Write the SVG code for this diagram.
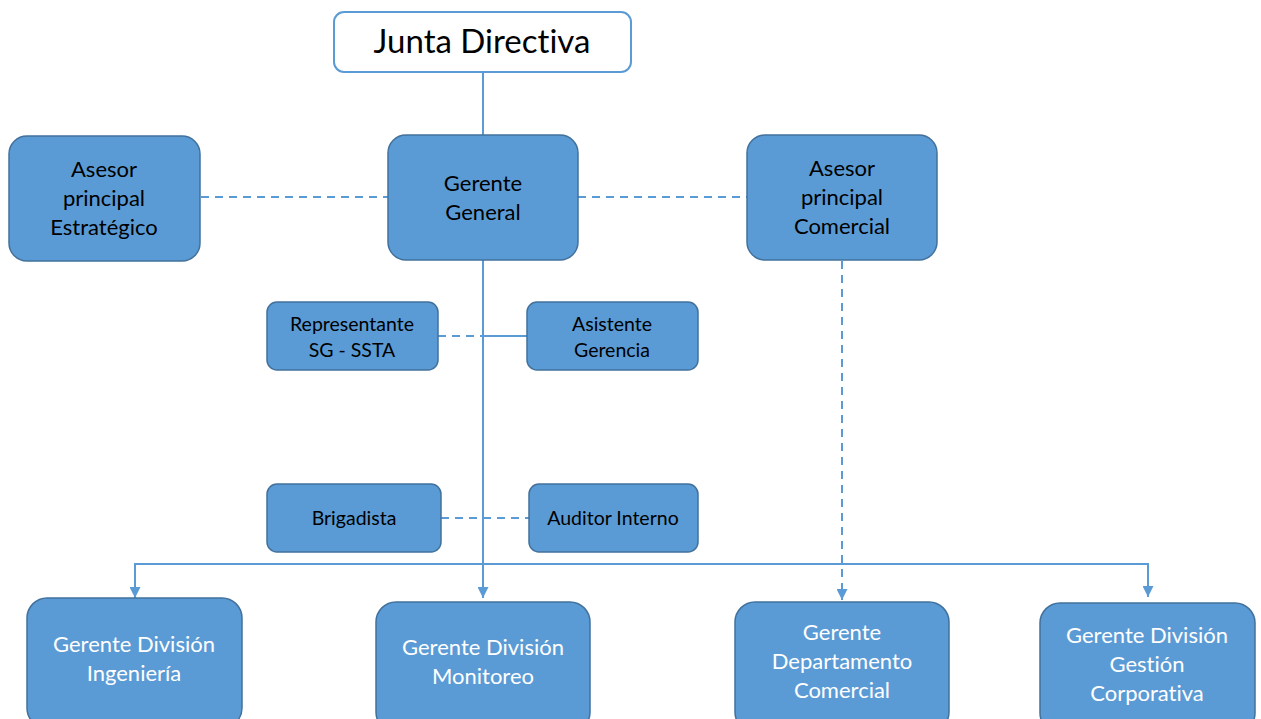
<svg xmlns="http://www.w3.org/2000/svg" width="1261" height="719" viewBox="0 0 1261 719">
  <style>
    .box { fill: #5B9BD5; stroke: #41719C; stroke-width: 1.5; }
    .top { fill: #FFFFFF; stroke: #5B9BD5; stroke-width: 2; }
    .t { font-family: Lato, "Liberation Sans", sans-serif; text-anchor: middle; fill: #000000; font-variant-ligatures: none; }
    .w { fill: #FFFFFF; }
    .l { font-size: 22px; }
    .s { font-size: 19.5px; }
    .line { fill: none; stroke: #5B9BD5; stroke-width: 2; }
    .dash { stroke-dasharray: 8 6; }
  </style>
  <defs>
    <marker id="arrow" viewBox="0 0 10 10" refX="10" refY="5" markerWidth="5.5" markerHeight="5.5" orient="auto" markerUnits="strokeWidth">
      <path d="M0,0 L10,5 L0,10 z" fill="#5B9BD5"/>
    </marker>
  </defs>

  <g id="connectors">
    <line class="line" x1="483" y1="72" x2="483" y2="135"/>
    <line class="line" x1="483" y1="260" x2="483" y2="598" marker-end="url(#arrow)"/>
    <line class="line dash" x1="201" y1="197" x2="388" y2="197"/>
    <line class="line dash" x1="578" y1="197" x2="747" y2="197"/>
    <line class="line dash" x1="438" y1="336" x2="483" y2="336"/>
    <line class="line" x1="483" y1="336" x2="527" y2="336"/>
    <line class="line dash" x1="441" y1="518" x2="529" y2="518"/>
    <polyline class="line" points="135,598 135,564 1148,564 1148,597" marker-end="url(#arrow)"/>
    <line class="line" x1="135" y1="564" x2="135" y2="598" marker-end="url(#arrow)"/>
    <line class="line dash" x1="842" y1="261" x2="842" y2="600" marker-end="url(#arrow)"/>
  </g>

  <g id="junta-directiva">
    <rect class="top" x="334" y="12" width="297" height="60" rx="10"/>
    <text class="t" x="482" y="53" font-size="33">Junta Directiva</text>
  </g>

  <g id="gerente-general">
    <rect class="box" x="388" y="135" width="190" height="125" rx="18"/>
    <text class="t l" x="483" y="191">Gerente</text>
    <text class="t l" x="483" y="220">General</text>
  </g>

  <g id="asesor-estrategico">
    <rect class="box" x="9" y="136" width="191" height="125" rx="18"/>
    <text class="t l" x="104" y="177">Asesor</text>
    <text class="t l" x="104" y="206">principal</text>
    <text class="t l" x="104" y="235">Estratégico</text>
  </g>

  <g id="asesor-comercial">
    <rect class="box" x="747" y="135" width="190" height="125" rx="18"/>
    <text class="t l" x="842" y="176">Asesor</text>
    <text class="t l" x="842" y="205">principal</text>
    <text class="t l" x="842" y="234">Comercial</text>
  </g>

  <g id="representante">
    <rect class="box" x="267" y="302" width="171" height="68" rx="10"/>
    <text class="t s" x="352" y="331">Representante</text>
    <text class="t s" x="352" y="357">SG - SSTA</text>
  </g>

  <g id="asistente-gerencia">
    <rect class="box" x="527" y="302" width="171" height="68" rx="10"/>
    <text class="t s" x="612" y="331">Asistente</text>
    <text class="t s" x="612" y="357">Gerencia</text>
  </g>

  <g id="brigadista">
    <rect class="box" x="267" y="484" width="174" height="68" rx="10"/>
    <text class="t s" x="354" y="525">Brigadista</text>
  </g>

  <g id="auditor-interno">
    <rect class="box" x="529" y="484" width="169" height="68" rx="10"/>
    <text class="t s" x="613" y="525">Auditor Interno</text>
  </g>

  <g id="gerente-ingenieria">
    <rect class="box" x="27" y="598" width="215" height="130" rx="20"/>
    <text class="t l w" x="134" y="652">Gerente División</text>
    <text class="t l w" x="134" y="681">Ingeniería</text>
  </g>

  <g id="gerente-monitoreo">
    <rect class="box" x="376" y="602" width="214" height="130" rx="20"/>
    <text class="t l w" x="483" y="655">Gerente División</text>
    <text class="t l w" x="483" y="684">Monitoreo</text>
  </g>

  <g id="gerente-comercial">
    <rect class="box" x="735" y="602" width="214" height="130" rx="20"/>
    <text class="t l w" x="842" y="640">Gerente</text>
    <text class="t l w" x="842" y="669">Departamento</text>
    <text class="t l w" x="842" y="698">Comercial</text>
  </g>

  <g id="gerente-gestion">
    <rect class="box" x="1040" y="603" width="215" height="130" rx="20"/>
    <text class="t l w" x="1147" y="643">Gerente División</text>
    <text class="t l w" x="1147" y="672">Gestión</text>
    <text class="t l w" x="1147" y="701">Corporativa</text>
  </g>
</svg>
